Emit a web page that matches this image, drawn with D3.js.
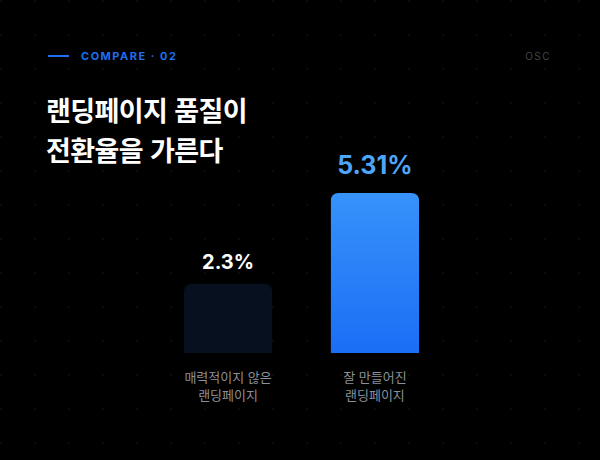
<!DOCTYPE html>
<html lang="ko">
<head>
<meta charset="utf-8">
<script src="https://d3js.org/d3.v7.min.js"></script>
<style>
  body { margin: 0; background: #000; }
  svg { display: block; font-family: "Noto Sans CJK KR", Inter, sans-serif; }
</style>
</head>
<body>
<svg id="chart" width="600" height="460"></svg>
<script>
  var categories = [["매력적이지 않은", "랜딩페이지"], ["잘 만들어진", "랜딩페이지"]];
  var values = [2.3, 5.31];
  var valueLabels = ["2.3%", "5.31%"];

  var svg = d3.select("#chart");
  var W = 600, H = 460;

  svg.append("rect").attr("width", W).attr("height", H).attr("fill", "#000");

  // dot grid
  var dots = [];
  for (var gx = 1; gx < W; gx += 34) for (var gy = 1; gy < H; gy += 34) dots.push([gx, gy]);
  svg.append("g").selectAll("circle").data(dots).enter().append("circle")
    .attr("cx", d => d[0]).attr("cy", d => d[1]).attr("r", 0.8).attr("fill", "#1a1a1a");

  var defs = svg.append("defs");
  var grad = defs.append("linearGradient").attr("id", "blueGrad")
    .attr("x1", 0).attr("y1", 0).attr("x2", 0).attr("y2", 1);
  grad.append("stop").attr("offset", "0%").attr("stop-color", "#3792fa");
  grad.append("stop").attr("offset", "100%").attr("stop-color", "#1b6ef5");

  // header
  svg.append("line").attr("x1", 48).attr("x2", 69).attr("y1", 56).attr("y2", 56)
    .attr("stroke", "#1f6ff0").attr("stroke-width", 2);
  svg.append("text").attr("x", 81).attr("y", 60).text("COMPARE · 02")
    .attr("fill", "#1f6ff0").attr("font-size", 11).attr("font-weight", 700)
    .attr("letter-spacing", 1.5).attr("font-family", "Inter, sans-serif");
  svg.append("text").attr("x", 551).attr("y", 60).attr("text-anchor", "end").text("OSC")
    .attr("fill", "#444").attr("font-size", 10).attr("letter-spacing", 1.5)
    .attr("font-family", "Inter, sans-serif");

  var title = svg.append("text").attr("fill", "#fff").attr("font-size", 27).attr("font-weight", 700)
    .attr("letter-spacing", -0.6);
  title.append("tspan").attr("x", 46).attr("y", 121).text("랜딩페이지 품질이");
  title.append("tspan").attr("x", 46).attr("y", 161).text("전환율을 가른다");

  var x = d3.scaleBand().domain([0, 1]).range([184, 419]).paddingInner(0.4).paddingOuter(0);
  var y = d3.scaleLinear().domain([0, 5.31]).range([353, 193]);

  var r = 8;
  function barPath(x0, w, top, bottom) {
    return "M" + x0 + "," + bottom + "V" + (top + r) + "Q" + x0 + "," + top + " " + (x0 + r) + "," + top +
      "H" + (x0 + w - r) + "Q" + (x0 + w) + "," + top + " " + (x0 + w) + "," + (top + r) + "V" + bottom + "Z";
  }

  svg.append("g").selectAll("path").data(values).enter().append("path")
    .attr("d", (d, i) => barPath(x(i), x.bandwidth(), y(d), y(0)))
    .attr("fill", (d, i) => i === 0 ? "#06101e" : "url(#blueGrad)");

  svg.append("g").selectAll("text").data(values).enter().append("text")
    .attr("x", (d, i) => x(i) + x.bandwidth() / 2)
    .attr("y", (d, i) => y(d) - (i === 0 ? 15 : 19))
    .attr("text-anchor", "middle")
    .attr("font-family", "Inter, sans-serif").attr("font-weight", 700)
    .attr("font-size", (d, i) => i === 0 ? 20 : 25)
    .attr("fill", (d, i) => i === 0 ? "#fff" : "#4ea6fa")
    .text((d, i) => valueLabels[i]);

  var cat = svg.append("g").selectAll("text").data(categories).enter().append("text")
    .attr("text-anchor", "middle").attr("fill", "#8b9099").attr("font-size", 13);
  cat.each(function (d, i) {
    var t = d3.select(this);
    d.forEach((line, j) => t.append("tspan").attr("x", x(i) + x.bandwidth() / 2)
      .attr("y", 382 + j * 18).text(line));
  });
</script>
</body>
</html>
